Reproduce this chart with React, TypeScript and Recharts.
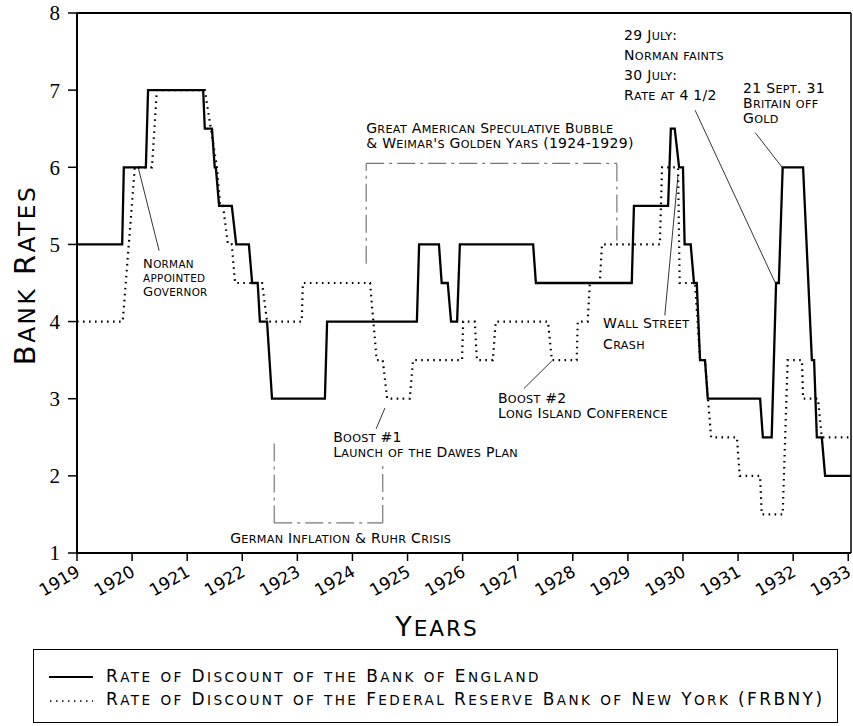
import { LineChart, Line, XAxis, YAxis, ReferenceLine, ReferenceDot, Label } from 'recharts';

// years on the x axis, bank rates (%) on the y axis
const yearTicks = [1919, 1920, 1921, 1922, 1923, 1924, 1925, 1926, 1927, 1928, 1929, 1930, 1931, 1932, 1933];
const rateTicks = [1, 2, 3, 4, 5, 6, 7, 8];

// Bank of England discount rate
const boeYears = [
  1919.0, 1919.82, 1919.85, 1920.25, 1920.29, 1921.29, 1921.32, 1921.45, 1921.5, 1921.52, 1921.58, 1921.81,
  1921.89, 1922.12, 1922.18, 1922.28, 1922.32, 1922.45, 1922.54, 1923.5, 1923.54, 1925.17, 1925.21, 1925.57,
  1925.62, 1925.73, 1925.79, 1925.9, 1925.95, 1927.28, 1927.33, 1929.07, 1929.11, 1929.73, 1929.78, 1929.85,
  1929.93, 1930.0, 1930.03, 1930.14, 1930.2, 1930.25, 1930.31, 1930.4, 1930.45, 1931.4, 1931.45, 1931.61,
  1931.69, 1931.74, 1931.81, 1932.18, 1932.34, 1932.38, 1932.43, 1932.52, 1932.58, 1933.05,
];
const boeRates = [
  5, 5, 6, 6, 7, 7, 6.5, 6.5, 6, 6, 5.5, 5.5,
  5, 5, 4.5, 4.5, 4, 4, 3, 3, 4, 4, 5, 5,
  4.5, 4.5, 4, 4, 5, 5, 4.5, 4.5, 5.5, 5.5, 6.5, 6.5,
  6, 6, 5, 5, 4.5, 4.5, 3.5, 3.5, 3, 3, 2.5, 2.5,
  4.5, 4.5, 6, 6, 3.5, 3.5, 2.5, 2.5, 2, 2,
];

// Federal Reserve Bank of New York discount rate
const nyYears = [
  1919.0, 1919.83, 1920.05, 1920.36, 1920.45, 1921.32, 1921.54, 1921.6, 1921.65, 1921.74, 1921.81, 1921.87,
  1922.36, 1922.45, 1923.08, 1923.1, 1924.32, 1924.44, 1924.55, 1924.63, 1925.04, 1925.1, 1925.99, 1926.01,
  1926.22, 1926.26, 1926.55, 1926.6, 1927.55, 1927.62, 1928.07, 1928.09, 1928.27, 1928.31, 1928.49, 1928.53,
  1929.58, 1929.62, 1929.91, 1929.94, 1930.22, 1930.31, 1930.4, 1930.51, 1930.98, 1931.03, 1931.4, 1931.43,
  1931.81, 1931.9, 1932.16, 1932.18, 1932.45, 1932.52, 1933.05,
];
const nyRates = [
  4, 4, 6, 6, 7, 7, 6, 5.5, 5.5, 5, 5, 4.5,
  4.5, 4, 4, 4.5, 4.5, 3.5, 3.5, 3, 3, 3.5, 3.5, 4,
  4, 3.5, 3.5, 4, 4, 3.5, 3.5, 4, 4, 4.5, 4.5, 5,
  5, 6, 6, 4.5, 4.5, 3.5, 3.5, 2.5, 2.5, 2, 2, 1.5,
  1.5, 3.5, 3.5, 3, 3, 2.5, 2.5,
];

const boeData = boeYears.map((year, i) => ({ year, rate: boeRates[i] }));
const nyData = nyYears.map((year, i) => ({ year, rate: nyRates[i] }));

const SANS = '"DejaVu Sans", sans-serif';
const SERIF = '"Liberation Serif", "Times New Roman", serif';

// small caps by hand: lowercase runs become slightly smaller capitals
function scRuns(text: string) {
  const runs: { t: string; small: boolean }[] = [];
  for (const ch of text) {
    const small = ch !== ch.toUpperCase();
    const last = runs[runs.length - 1];
    if (last && last.small === small) last.t += ch.toUpperCase();
    else runs.push({ t: ch.toUpperCase(), small });
  }
  return runs;
}

function SC({ text, size }: { text: string; size: number }) {
  return (
    <>
      {scRuns(text).map((r, i) => (
        <tspan key={i} fontSize={r.small ? size * 0.8 : size}>{r.t}</tspan>
      ))}
    </>
  );
}

function ScHtml({ text, size }: { text: string; size: number }) {
  return (
    <>
      {scRuns(text).map((r, i) => (
        <span key={i} style={{ fontSize: r.small ? size * 0.8 : size }}>{r.t}</span>
      ))}
    </>
  );
}

function YearTick({ x, y, payload }: any) {
  const tx = x + 4;
  const ty = y + 12;
  return (
    <text x={tx} y={ty} textAnchor="end" fontFamily={SANS} fontSize={17} fill="#000" transform={`rotate(-30, ${tx}, ${ty})`}>
      {payload.value}
    </text>
  );
}

function Note({ lines, gap = 15, size = 14 }: { lines: string[]; gap?: number; size?: number }) {
  return (props: any) => (
    <text x={props.cx} y={props.cy} fontFamily={SANS} fontSize={size} letterSpacing={0.3} fill="#000">
      {lines.map((l, i) => (
        <tspan key={i} x={props.cx} dy={i === 0 ? 0 : gap}>
          <SC text={l} size={size} />
        </tspan>
      ))}
    </text>
  );
}

const lead = { stroke: '#000', strokeWidth: 0.8 };
const boxLine = { stroke: '#777', strokeWidth: 1.2, strokeDasharray: '18 5 3 5' };

export default function App() {
  return (
    <div style={{ position: 'absolute', left: 0, top: 0, width: 853, height: 726, background: '#fff' }}>
      <LineChart width={853} height={660} margin={{ top: 13, right: 2, left: 0, bottom: 20 }}>
        <XAxis
          type="number"
          dataKey="year"
          domain={[1919, 1933.05]}
          ticks={yearTicks}
          allowDataOverflow
          height={87}
          tickSize={8}
          axisLine={{ stroke: '#000', strokeWidth: 2 }}
          tickLine={{ stroke: '#000', strokeWidth: 1.5 }}
          tick={<YearTick />}
          interval={0}
        >
          <Label
            content={(p: any) => (
              <text x={p.viewBox.x + p.viewBox.width / 2 - 27} y={636} textAnchor="middle" fontFamily={SANS} fontSize={27} letterSpacing={2}>
                <SC text="Years" size={27} />
              </text>
            )}
          />
        </XAxis>
        <YAxis
          type="number"
          domain={[1, 8]}
          ticks={rateTicks}
          width={77}
          tickSize={9}
          tickMargin={8}
          axisLine={{ stroke: '#000', strokeWidth: 2 }}
          tickLine={{ stroke: '#000', strokeWidth: 1.5 }}
          tick={{ fontFamily: SERIF, fontSize: 21, fill: '#000' }}
        >
          <Label
            content={(p: any) => {
              const cy = p.viewBox.y + p.viewBox.height / 2 - 8;
              return (
                <text x={35} y={cy} textAnchor="middle" fontFamily={SANS} fontSize={29} letterSpacing={2.5} transform={`rotate(-90, 35, ${cy})`}>
                  <SC text="Bank Rates" size={29} />
                </text>
              );
            }}
          />
        </YAxis>

        <ReferenceLine y={8} stroke="#000" strokeWidth={2} />
        <ReferenceLine x={1933.05} stroke="#000" strokeWidth={1.5} />

        {/* German inflation box */}
        <ReferenceLine segment={[{ x: 1922.58, y: 2.42 }, { x: 1922.58, y: 1.39 }]} {...boxLine} />
        <ReferenceLine segment={[{ x: 1922.58, y: 1.39 }, { x: 1924.55, y: 1.39 }]} {...boxLine} />
        <ReferenceLine segment={[{ x: 1924.55, y: 1.39 }, { x: 1924.55, y: 2.19 }]} {...boxLine} />
        {/* speculative bubble box */}
        <ReferenceLine segment={[{ x: 1924.25, y: 4.75 }, { x: 1924.25, y: 6.05 }]} {...boxLine} />
        <ReferenceLine segment={[{ x: 1924.25, y: 6.05 }, { x: 1928.8, y: 6.05 }]} {...boxLine} />
        <ReferenceLine segment={[{ x: 1928.8, y: 6.05 }, { x: 1928.8, y: 5.05 }]} {...boxLine} />

        {/* leader lines */}
        <ReferenceLine segment={[{ x: 1920.11, y: 6.0 }, { x: 1920.49, y: 4.92 }]} {...lead} />
        <ReferenceLine segment={[{ x: 1924.59, y: 2.88 }, { x: 1924.43, y: 2.61 }]} {...lead} />
        <ReferenceLine segment={[{ x: 1927.62, y: 3.49 }, { x: 1927.11, y: 3.13 }]} {...lead} />
        <ReferenceLine segment={[{ x: 1929.91, y: 5.9 }, { x: 1929.67, y: 4.08 }]} {...lead} />
        <ReferenceLine segment={[{ x: 1930.22, y: 6.74 }, { x: 1931.67, y: 4.51 }]} {...lead} />
        <ReferenceLine segment={[{ x: 1931.31, y: 6.45 }, { x: 1931.8, y: 6.0 }]} {...lead} />

        <Line data={nyData} dataKey="rate" type="linear" stroke="#000" strokeWidth={2.2} strokeDasharray="1.6 4.4" dot={false} isAnimationActive={false} />
        <Line data={boeData} dataKey="rate" type="linear" stroke="#000" strokeWidth={2.3} dot={false} isAnimationActive={false} />

        <ReferenceDot x={1920.2} y={4.69} r={0} shape={Note({ lines: ['Norman', 'appointed', 'Governor'], gap: 14, size: 13 })} />
        <ReferenceDot x={1924.25} y={6.44} r={0} shape={Note({ lines: ['Great American Speculative Bubble', "& Weimar's Golden Yars (1924-1929)"], gap: 15 })} />
        <ReferenceDot x={1921.78} y={1.13} r={0} shape={Note({ lines: ['German Inflation & Ruhr Crisis'] })} />
        <ReferenceDot x={1923.65} y={2.44} r={0} shape={Note({ lines: ['Boost #1', 'Launch of the Dawes Plan'], gap: 15 })} />
        <ReferenceDot x={1926.64} y={2.95} r={0} shape={Note({ lines: ['Boost #2', 'Long Island Conference'], gap: 15 })} />
        <ReferenceDot x={1928.55} y={3.92} r={0} shape={Note({ lines: ['Wall Street', 'Crash'], gap: 21 })} />
        <ReferenceDot x={1928.93} y={7.65} r={0} shape={Note({ lines: ['29 July:', 'Norman faints', '30 July:', 'Rate at 4 1/2'], gap: 20 })} />
        <ReferenceDot x={1931.09} y={6.96} r={0} shape={Note({ lines: ['21 Sept. 31', 'Britain off', 'Gold'], gap: 15 })} />
      </LineChart>

      <div
        style={{
          position: 'absolute', left: 33, top: 649, width: 803, height: 72, border: '1.5px solid #000',
          fontFamily: SANS, fontSize: 17, letterSpacing: 2.4, lineHeight: '22px', color: '#000',
        }}
      >
        <div style={{ position: 'absolute', left: 15, top: 15 }}>
          <div style={{ display: 'flex', alignItems: 'center', whiteSpace: 'nowrap' }}>
            <svg width={45} height={22}><line x1={0} y1={11} x2={44} y2={11} stroke="#000" strokeWidth={2} /></svg>
            <span style={{ marginLeft: 12 }}><ScHtml text="Rate of Discount of the Bank of England" size={17} /></span>
          </div>
          <div style={{ display: 'flex', alignItems: 'center', whiteSpace: 'nowrap' }}>
            <svg width={45} height={22}><line x1={1} y1={12} x2={44} y2={12} stroke="#000" strokeWidth={1.5} strokeDasharray="1.5 4.5" /></svg>
            <span style={{ marginLeft: 12 }}><ScHtml text="Rate of Discount of the Federal Reserve Bank of New York (FRBNY)" size={17} /></span>
          </div>
        </div>
      </div>
    </div>
  );
}
